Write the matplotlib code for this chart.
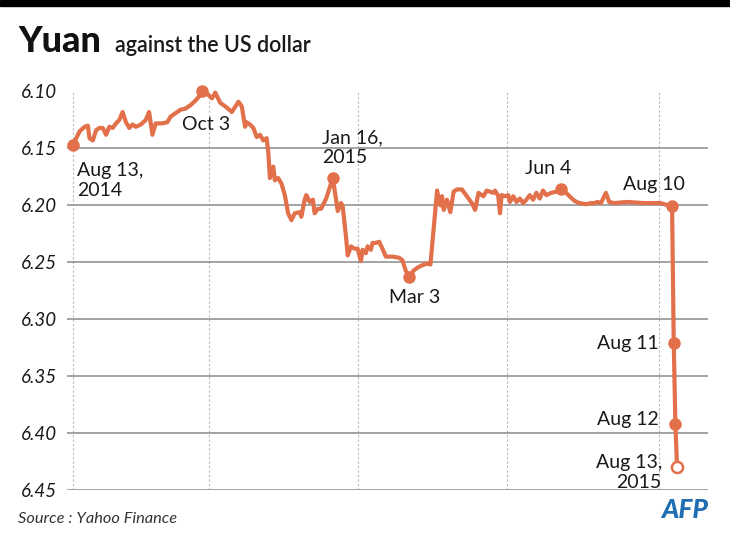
import matplotlib.pyplot as plt
from matplotlib.patches import Rectangle

plt.rcParams['font.family'] = ['Lato', 'DejaVu Sans']

# days since Aug 13, 2014 and yuan per US dollar
days = [0, 4, 7, 9, 10, 12, 14, 16, 18, 20, 22, 24, 26, 28, 30, 32, 34, 36, 38, 41,
        44, 46, 48, 50, 54, 57, 59, 62, 65, 68, 71, 74, 77, 78, 81, 84, 86, 89, 92, 96,
        100, 102, 104, 105, 107, 109, 111, 113, 115, 117, 118, 119, 121, 122, 124, 126,
        128, 130, 132, 134, 137, 138, 140, 141, 143, 145, 146, 148, 150, 153, 157, 160,
        162, 163, 165, 166, 168, 170, 172, 174, 175, 177, 178, 180, 181, 183, 185, 187,
        189, 193, 197, 199, 201, 203, 206, 209, 212, 215, 216, 218, 220, 222, 223, 224,
        226, 228, 230, 232, 235, 238, 241, 243, 245, 248, 250, 252, 254, 255, 257, 258,
        259, 261, 263, 264, 266, 268, 270, 272, 274, 276, 278, 280, 282, 284, 286, 289,
        292, 295, 298, 300, 303, 306, 310, 313, 315, 317, 319, 322, 324, 327, 335, 345,
        355, 362, 363, 364, 365]
rate = [6.147, 6.135, 6.131, 6.130, 6.141, 6.143, 6.134, 6.132, 6.132, 6.138, 6.131, 6.132,
        6.128, 6.125, 6.118, 6.127, 6.132, 6.129, 6.131, 6.129, 6.125, 6.118, 6.138, 6.128,
        6.128, 6.127, 6.122, 6.119, 6.116, 6.115, 6.112, 6.108, 6.103, 6.100, 6.102, 6.106,
        6.101, 6.110, 6.113, 6.118, 6.109, 6.113, 6.131, 6.127, 6.129, 6.132, 6.140, 6.138,
        6.143, 6.141, 6.153, 6.176, 6.166, 6.178, 6.176, 6.181, 6.191, 6.207, 6.213, 6.207,
        6.206, 6.210, 6.195, 6.191, 6.197, 6.195, 6.207, 6.203, 6.203, 6.194, 6.176, 6.205,
        6.198, 6.201, 6.228, 6.244, 6.236, 6.238, 6.238, 6.249, 6.239, 6.242, 6.236, 6.239,
        6.233, 6.233, 6.232, 6.238, 6.245, 6.245, 6.246, 6.248, 6.257, 6.263, 6.257, 6.254,
        6.252, 6.251, 6.252, 6.219, 6.187, 6.200, 6.192, 6.204, 6.195, 6.206, 6.188, 6.186,
        6.186, 6.192, 6.198, 6.204, 6.189, 6.192, 6.187, 6.188, 6.189, 6.187, 6.192, 6.207,
        6.191, 6.192, 6.191, 6.197, 6.192, 6.197, 6.194, 6.198, 6.195, 6.191, 6.195, 6.189,
        6.194, 6.187, 6.191, 6.189, 6.188, 6.186, 6.189, 6.192, 6.196, 6.198, 6.199, 6.198,
        6.198, 6.197, 6.198, 6.189, 6.197, 6.198, 6.197, 6.198, 6.198, 6.201, 6.321, 6.392,
        6.430]

# labelled points: day, label, offset (points, to last line baseline), alignment
mark_days = [0, 78, 157, 203, 295, 362, 363, 364]
mark_labels = ["Aug 13,\n2014", "Oct 3", "Jan 16,\n2015", "Mar 3", "Jun 4", "Aug 10", "Aug 11", "Aug 12"]
mark_offsets = [(3, -36.5), (3, -27.5), (-8, 11), (-14.5, -18.5), (-26, 11), (-35, 12), (-11, -4), (-12, -0.5)]
mark_ha = ['left', 'center', 'left', 'left', 'left', 'left', 'right', 'right']
last_label = "Aug 13,\n2015"

yticks = [6.10, 6.15, 6.20, 6.25, 6.30, 6.35, 6.40, 6.45]
vline_days = [0, 82, 172, 262, 354]

orange = '#e2704a'
txt = '#1a1a1a'

fig = plt.figure(figsize=(7.3, 5.37), dpi=100)
ax = fig.add_axes([67 / 730, 1 - 490 / 537, 641 / 730, 398.5 / 537])

for d in vline_days:
    ax.axvline(d, color='#b8b8b8', lw=0.8, ls=(0, (2, 2)), zorder=0)

ax.plot(days, rate, color=orange, lw=3, solid_joinstyle='round', zorder=3, clip_on=False)

for d, lab, off, ha in zip(mark_days, mark_labels, mark_offsets, mark_ha):
    v = rate[days.index(d)]
    ax.plot(d, v, 'o', color=orange, ms=8, zorder=4, clip_on=False)
    ax.annotate(lab, (d, v), xytext=off, textcoords='offset points', ha=ha, va='baseline',
                fontsize=14, color=txt, linespacing=1.2, multialignment=ha)

ax.plot(days[-1], rate[-1], 'o', mfc='white', mec=orange, mew=1.8, ms=8, zorder=4, clip_on=False)
ax.annotate(last_label, (days[-1], rate[-1]), xytext=(-11, -14.6), textcoords='offset points',
            ha='right', va='baseline', fontsize=14, color=txt, linespacing=1.2,
            multialignment='right')

ax.set_xlim(-3.6, 383.7)
ax.set_ylim(6.45, 6.10)
ax.set_yticks(yticks)
ax.set_yticklabels([f"{t:.2f}" for t in yticks], fontstyle='italic', fontsize=13.5, color=txt)
ax.set_xticks([])
ax.tick_params(axis='y', length=0, pad=7)
ax.yaxis.grid(True, color='#8a8a8a', lw=1.1)
ax.set_axisbelow(True)
for s in ax.spines.values():
    s.set_visible(False)

fig.patches.append(Rectangle((0, 1 - 6 / 537), 1, 6 / 537, transform=fig.transFigure,
                             color='black'))
fig.text(18 / 730, 1 - 52 / 537, "Yuan", fontsize=26, fontweight='black', va='baseline',
         color='#111111')
fig.text(115 / 730, 1 - 52 / 537, "against the US dollar", fontsize=15.5, fontweight='semibold',
         va='baseline', color=txt)
fig.text(18 / 730, 1 - 523 / 537, "Source : Yahoo Finance", fontstyle='italic', fontsize=11.8,
         color='#333333', va='baseline')
fig.text(708 / 730, 1 - 518 / 537, "AFP", ha='right', va='baseline', fontsize=19,
         fontweight='black', fontstyle='italic', color='#1f6db3')

fig.savefig('out.png', dpi=100)
